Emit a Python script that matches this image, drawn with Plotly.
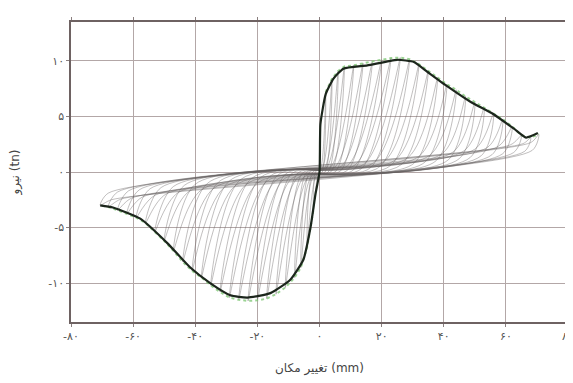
import plotly.graph_objects as go

# ---------------- data ----------------
# backbone / envelope curve (mm, tn)
env_x = [-70.6, -66.5, -57.7, -49.0, -41.6, -35.2, -28.7, -23.2, -15.8, -9.4, -5.2, -2.9, -1.3, 0.0,
         0.3, 2.0, 4.5, 7.7, 15.4, 25.0, 30.4, 34.8, 41.2, 48.7, 56.0, 62.6, 66.5, 70.3]
env_y = [-3.0, -3.2, -4.2, -6.4, -8.6, -10.0, -11.1, -11.3, -10.9, -9.7, -7.9, -5.0, -2.0, 0.0,
         4.3, 7.0, 8.4, 9.3, 9.6, 10.1, 9.9, 9.0, 7.7, 6.3, 5.2, 3.9, 3.1, 3.5]

# cycle peaks, positive side
pos_peak_x = [2, 4, 6, 8, 11, 14, 17, 20, 23, 26, 29, 32, 35, 38, 41, 44, 47, 50, 53, 56, 59, 62, 65, 68, 70.6]
pos_peak_y = [7.2, 8.4, 9.1, 9.5, 9.6, 9.8, 9.95, 10.1, 10.25, 10.3, 10.15, 9.7, 9.1, 8.5, 7.9, 7.4,
              6.8, 6.3, 5.8, 5.3, 4.75, 4.1, 3.3, 3.1, 3.4]
# where the reloading branch leaves the pinched band (positive side)
pos_reload_x = [0.3, 0.8, 1.5, 2.2, 3.5, 5.0, 7.0, 9.0, 11.5, 14.5, 17.5, 21.0, 24.5, 28.5, 32.0, 35.5,
                39.5, 43.0, 46.5, 50.0, 54.0, 57.5, 61.5, 65.5, 68.0]
pos_reload_y = [0.3, 0.3, 0.3, 0.35, 0.4, 0.45, 0.5, 0.55, 0.65, 0.75, 0.85, 1.0, 1.1, 1.3, 1.4, 1.5,
                1.65, 1.8, 1.9, 2.05, 2.2, 2.3, 2.45, 2.55, 2.65]
# where the unloading branch reaches the pinched band (positive side)
pos_unload_x = [0.9, 1.8, 2.8, 3.8, 5.2, 6.8, 9.0, 11.0, 13.5, 16.5, 19.5, 23.0, 26.5, 30.5, 34.0, 37.5,
                41.5, 45.0, 48.5, 52.0, 55.5, 59.0, 62.5, 66.0, 68.5]
pos_unload_y = [0.0, 0.0, 0.0, 0.05, 0.05, 0.1, 0.15, 0.2, 0.3, 0.4, 0.5, 0.6, 0.7, 0.8, 0.9, 1.0,
                1.1, 1.2, 1.3, 1.45, 1.55, 1.65, 1.75, 1.85, 1.95]

# cycle peaks, negative side
neg_peak_x = [-2, -4, -6, -8, -11, -14, -17, -20, -23, -26, -29, -32, -35, -38, -41, -44, -47, -50,
              -53, -56, -59, -62, -65, -68, -70.6]
neg_peak_y = [-3.5, -6.8, -8.6, -9.5, -10.4, -11.0, -11.4, -11.55, -11.6, -11.5, -11.3, -10.8, -10.2,
              -9.5, -8.9, -8.1, -7.1, -6.2, -5.4, -4.6, -4.1, -3.75, -3.45, -3.15, -3.0]
neg_unload_x = [-1.2, -2.2, -3.2, -4.2, -5.5, -7.0, -9.0, -11.0, -13.5, -16.0, -19.0, -22.0, -25.5,
                -29.0, -32.5, -36.0, -40.0, -43.5, -47.0, -51.0, -54.5, -58.0, -61.5, -65.0, -68.0]
neg_unload_y = [0.05, 0.0, 0.0, -0.05, -0.1, -0.1, -0.15, -0.2, -0.3, -0.4, -0.5, -0.6, -0.7, -0.8,
                -0.9, -1.0, -1.1, -1.2, -1.3, -1.4, -1.5, -1.6, -1.7, -1.8, -1.9]
neg_reload_x = [-0.4, -1.0, -1.8, -2.5, -3.5, -5.0, -7.0, -9.0, -11.5, -14.0, -17.0, -20.0, -23.5,
                -27.0, -30.5, -34.0, -38.0, -42.0, -45.5, -49.5, -53.0, -57.0, -60.5, -64.0, -67.0]
neg_reload_y = [-0.3, -0.3, -0.3, -0.35, -0.4, -0.45, -0.5, -0.6, -0.65, -0.75, -0.85, -1.0, -1.1,
                -1.2, -1.35, -1.45, -1.6, -1.75, -1.85, -2.0, -2.1, -2.25, -2.35, -2.45, -2.5]

x_ticks = [-80, -60, -40, -20, 0, 20, 40, 60, 80]
x_tick_text = ['-۸۰', '-۶۰', '-۴۰', '-۲۰', '۰', '۲۰', '۴۰', '۶۰', '۸۰']
y_ticks = [-10, -5, 0, 5, 10]
y_tick_text = ['-۱۰', '-۵', '۰', '۵', '۱۰']
x_title = 'تغییر مکان (mm)'
y_title = 'نیرو (tn)'

# ---------------- figure ----------------
fig = go.Figure()

for i in range(len(pos_peak_x)):
    lx = [neg_peak_x[i], neg_unload_x[i], pos_reload_x[i], pos_peak_x[i],
          pos_unload_x[i], neg_reload_x[i], neg_peak_x[i]]
    ly = [neg_peak_y[i], neg_unload_y[i], pos_reload_y[i], pos_peak_y[i],
          pos_unload_y[i], neg_reload_y[i], neg_peak_y[i]]
    fig.add_trace(go.Scatter(x=lx, y=ly, mode='lines',
                             line=dict(color='rgba(100,95,95,0.4)', width=1, shape='spline', smoothing=0.8),
                             hoverinfo='skip', showlegend=False))

fig.add_trace(go.Scatter(x=pos_peak_x, y=pos_peak_y, mode='lines',
                         line=dict(color='rgba(130,200,120,0.8)', width=2, dash='dot'),
                         showlegend=False))
fig.add_trace(go.Scatter(x=neg_peak_x, y=neg_peak_y, mode='lines',
                         line=dict(color='rgba(130,200,120,0.8)', width=2, dash='dot'),
                         showlegend=False))

fig.add_trace(go.Scatter(x=env_x, y=env_y, mode='lines',
                         line=dict(color='#1c261c', width=2.2, shape='spline', smoothing=0.5),
                         showlegend=False))

axis_common = dict(showgrid=True, gridcolor='#b3a7a7', gridwidth=1.2, zeroline=False,
                   showline=True, linecolor='#6e6262', linewidth=1.5, mirror='ticks',
                   ticks='outside', ticklen=3, tickcolor='#8a7f7f', automargin=False,
                   ticklabeloverflow='allow',
                   tickfont=dict(family='DejaVu Sans', size=11, color='#555555'))

# the page body adds an 8 px offset, so the figure is sized to land the plot
# area where the reference has it
fig.update_layout(
    width=565, height=375,
    margin=dict(l=63, r=5, t=14, b=61),
    paper_bgcolor='white', plot_bgcolor='white',
    font=dict(family='DejaVu Sans', color='#555555'),
    xaxis=dict(range=[-80, 80], tickvals=x_ticks, ticktext=x_tick_text,
               title=dict(text=x_title, font=dict(size=12, color='#444444'), standoff=22),
               **axis_common),
    yaxis=dict(range=[-13.5, 13.5], tickvals=y_ticks, ticktext=y_tick_text,
               title=dict(text=y_title, font=dict(size=12, color='#444444'), standoff=27),
               **axis_common),
)

fig.write_html('out.html')
